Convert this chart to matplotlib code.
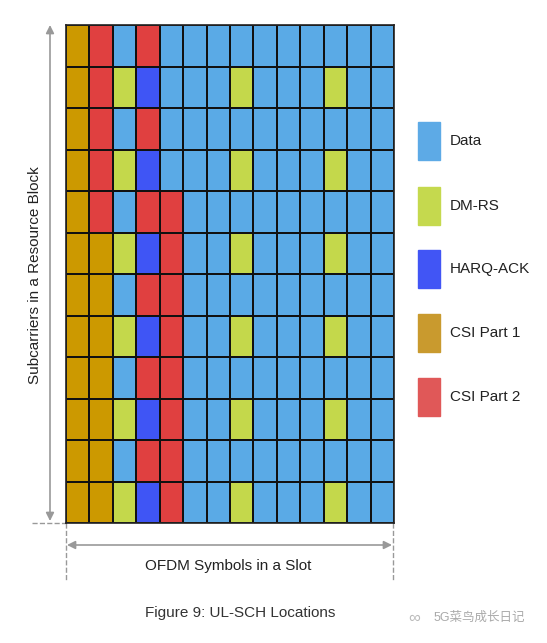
import matplotlib.pyplot as plt
import numpy as np
from matplotlib.colors import ListedColormap
from matplotlib.patches import Rectangle

plt.rcParams['font.family'] = ['Liberation Sans', 'Noto Sans CJK SC', 'DejaVu Sans']

# resource element types
categories = ['Data', 'DM-RS', 'HARQ-ACK', 'CSI Part 1', 'CSI Part 2']
colors = ['#5aaae6', '#c4d84b', '#3f55f5', '#cc9900', '#e04040']
legend_colors = ['#5daae6', '#c5d94e', '#4155f5', '#c99a2e', '#e05858']

# grid rows, top to bottom; 0=Data 1=DM-RS 2=HARQ 3=CSI1 4=CSI2
row_a = [3, 4, 0, 4, 0, 0, 0, 0, 0, 0, 0, 0, 0, 0]
row_b = [3, 4, 1, 2, 0, 0, 0, 1, 0, 0, 0, 1, 0, 0]
row_c = [3, 4, 0, 4, 4, 0, 0, 0, 0, 0, 0, 0, 0, 0]
row_d = [3, 3, 1, 2, 4, 0, 0, 1, 0, 0, 0, 1, 0, 0]
row_e = [3, 3, 0, 4, 4, 0, 0, 0, 0, 0, 0, 0, 0, 0]
grid = [row_a, row_b, row_a, row_b, row_c, row_d,
        row_e, row_d, row_e, row_d, row_e, row_d]

W, H = 547, 643
fig = plt.figure(figsize=(W / 100, H / 100), dpi=100)

# main grid
ax = fig.add_axes([66 / W, 1 - 523 / H, 328 / W, 498 / H])
cmap = ListedColormap(colors)
ax.pcolormesh(np.array(grid), cmap=cmap, vmin=-0.5, vmax=4.5,
              edgecolors='#111111', linewidth=1.2)
ax.set_xlim(0, 14)
ax.set_ylim(12, 0)
ax.set_xticks([])
ax.set_yticks([])
for s in ax.spines.values():
    s.set_color('#222222')
    s.set_linewidth(1.2)

# overlay for annotations, pixel coordinates
ov = fig.add_axes([0, 0, 1, 1], zorder=-1)
ov.set_xlim(0, W)
ov.set_ylim(H, 0)
ov.axis('off')

arr = dict(arrowstyle='<|-|>', color='#999999', lw=1.2, mutation_scale=12,
           shrinkA=0, shrinkB=0)
ov.annotate('', xy=(50, 25), xytext=(50, 521), arrowprops=arr)
ov.plot([32, 66], [523, 523], ls='--', color='#999999', lw=1)
ov.plot([66, 66], [523, 580], ls='--', color='#999999', lw=1)
ov.plot([393, 393], [523, 580], ls='--', color='#999999', lw=1)
ov.annotate('', xy=(67, 545), xytext=(392, 545), arrowprops=arr)

ov.text(35, 275, 'Subcarriers in a Resource Block', rotation=90,
        ha='center', va='center', fontsize=11, color='#222222')
ov.text(228, 566, 'OFDM Symbols in a Slot', ha='center', va='center',
        fontsize=11, color='#222222')
ov.text(240, 613, 'Figure 9: UL-SCH Locations', ha='center', va='center',
        fontsize=11, color='#333333')
ov.text(479, 618, '5G菜鸟成长日记', ha='center', va='center',
        fontsize=9, color='#aaaaaa')
ov.text(414, 618, '\u221e', ha='center', va='center', fontsize=12, color='#bbbbbb')

# legend
leg_y = [141, 206, 269, 333, 397]
for c, name, y in zip(legend_colors, categories, leg_y):
    ov.add_patch(Rectangle((418, y - 19), 22, 38, color=c))
    ov.text(450, y, name, ha='left', va='center', fontsize=11, color='#222222')

fig.savefig('out.png', dpi=100)
